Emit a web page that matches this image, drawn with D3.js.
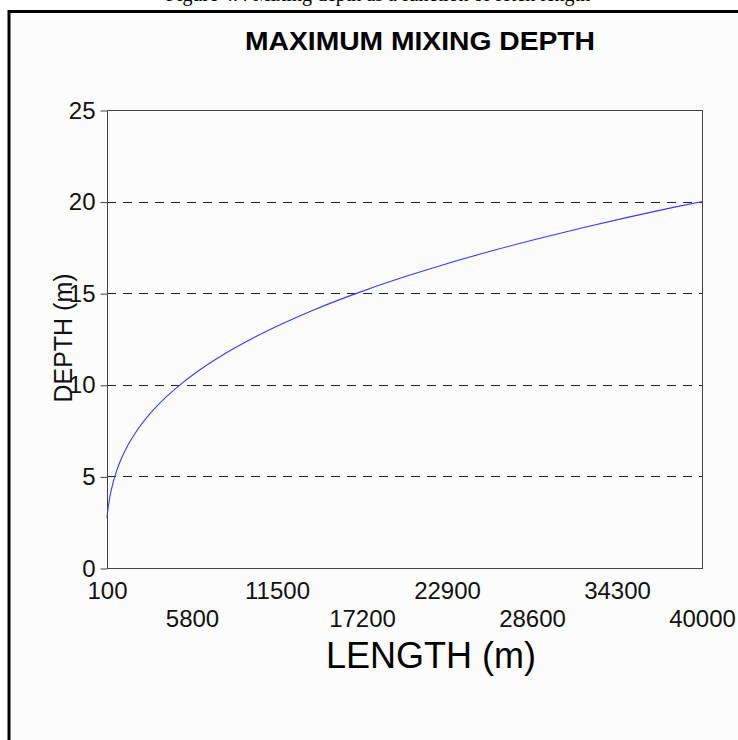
<!DOCTYPE html>
<html>
<head>
<meta charset="utf-8">
<script src="https://cdn.jsdelivr.net/npm/d3@7"></script>
<style>
  html, body { margin: 0; padding: 0; background: #ffffff; }
  svg { display: block; }
</style>
</head>
<body>
<svg id="chart" width="738" height="740"></svg>
<script>
// ---- data ----
const lengths = [100, 150, 200, 300, 400, 700, 1000, 1500, 2000, 3000, 4000, 5000, 6000, 8000,
                 10000, 12000, 14000, 17200, 20000, 23000, 26000, 29000, 32000, 35000, 38000, 40000];
const depths  = [2.72, 3.11, 3.42, 3.92, 4.31, 5.19, 5.85, 6.70, 7.37, 8.44, 9.29, 10.0, 10.63, 11.70,
                 12.60, 13.39, 14.10, 15.10, 15.88, 16.64, 17.33, 17.97, 18.57, 19.14, 19.67, 20.0];
const xTicks = [100, 5800, 11500, 17200, 22900, 28600, 34300, 40000];
const yTicks = [0, 5, 10, 15, 20, 25];
const gridValues = [5, 10, 15, 20];
const titleText = "MAXIMUM MIXING DEPTH";
const xTitle = "LENGTH (m)";
const yTitle = "DEPTH (m)";
const captionText = "Figure 4.4  Mixing depth as a function of fetch length";

const svg = d3.select("#chart");
const font = "Arial, 'Liberation Sans', Helvetica, sans-serif";

// caption (cut off at top, as in the reference crop)
svg.append("text")
  .attr("x", 378).attr("y", 1)
  .attr("text-anchor", "middle")
  .attr("font-family", "'Liberation Serif', 'Times New Roman', serif")
  .attr("font-size", 20)
  .attr("fill", "#000")
  .text(captionText);

// outer panel
svg.append("rect")
  .attr("x", 9).attr("y", 11.5)
  .attr("width", 800).attr("height", 800)
  .attr("fill", "#fcfcfc")
  .attr("stroke", "#000").attr("stroke-width", 3);

const plot = { left: 107, right: 702, top: 110, bottom: 568 };

const x = d3.scaleLinear().domain([100, 40000]).range([plot.left, plot.right]);
const y = d3.scaleLinear().domain([0, 25]).range([plot.bottom, plot.top]);

// gridlines
svg.append("g").selectAll("line").data(gridValues).join("line")
  .attr("x1", plot.left).attr("x2", plot.right)
  .attr("y1", d => Math.round(y(d)) + 0.5).attr("y2", d => Math.round(y(d)) + 0.5)
  .attr("stroke", "#222").attr("stroke-width", 1)
  .attr("stroke-dasharray", "9,7");

// frame
svg.append("rect")
  .attr("x", plot.left + 0.5).attr("y", plot.top + 0.5)
  .attr("width", plot.right - plot.left).attr("height", plot.bottom - plot.top)
  .attr("fill", "none").attr("stroke", "#444").attr("stroke-width", 1);

// y axis
const yAxis = d3.axisLeft(y).tickValues(yTicks).tickSize(7).tickPadding(5).tickFormat(d3.format("d"));
const gy = svg.append("g").attr("transform", `translate(${plot.left + 0.5},0.5)`).call(yAxis);
gy.select(".domain").remove();
gy.selectAll(".tick line").attr("stroke", "#444");
gy.selectAll(".tick text")
  .attr("font-family", font).attr("font-size", 24).attr("fill", "#111");

// x axis (staggered labels, no tick marks)
const xAxis = d3.axisBottom(x).tickValues(xTicks).tickSize(0).tickFormat(d3.format("d"));
const gx = svg.append("g").attr("transform", `translate(0,${plot.bottom})`).call(xAxis);
gx.select(".domain").remove();
gx.selectAll(".tick text")
  .attr("font-family", font).attr("font-size", 24).attr("fill", "#111")
  .attr("dy", null)
  .attr("y", (d, i) => i % 2 === 0 ? 31 : 59);

// curve
const line = d3.line()
  .x((d, i) => x(lengths[i]))
  .y(d => y(d))
  .curve(d3.curveMonotoneX);
svg.append("path")
  .datum(depths)
  .attr("d", line)
  .attr("fill", "none")
  .attr("stroke", "#3a3aff")
  .attr("stroke-width", 1.1);

// title
svg.append("text")
  .attr("x", 420).attr("y", 50)
  .attr("text-anchor", "middle")
  .attr("font-family", font).attr("font-weight", "bold")
  .attr("font-size", 25)
  .attr("textLength", 350)
  .attr("lengthAdjust", "spacingAndGlyphs")
  .attr("fill", "#000")
  .text(titleText);

// axis titles
svg.append("text")
  .attr("x", 431).attr("y", 668)
  .attr("text-anchor", "middle")
  .attr("font-family", font).attr("font-size", 36)
  .attr("fill", "#000")
  .text(xTitle);

svg.append("text")
  .attr("transform", "translate(72,338) rotate(-90)")
  .attr("text-anchor", "middle")
  .attr("font-family", font).attr("font-size", 25)
  .attr("fill", "#111")
  .text(yTitle);
</script>
</body>
</html>
